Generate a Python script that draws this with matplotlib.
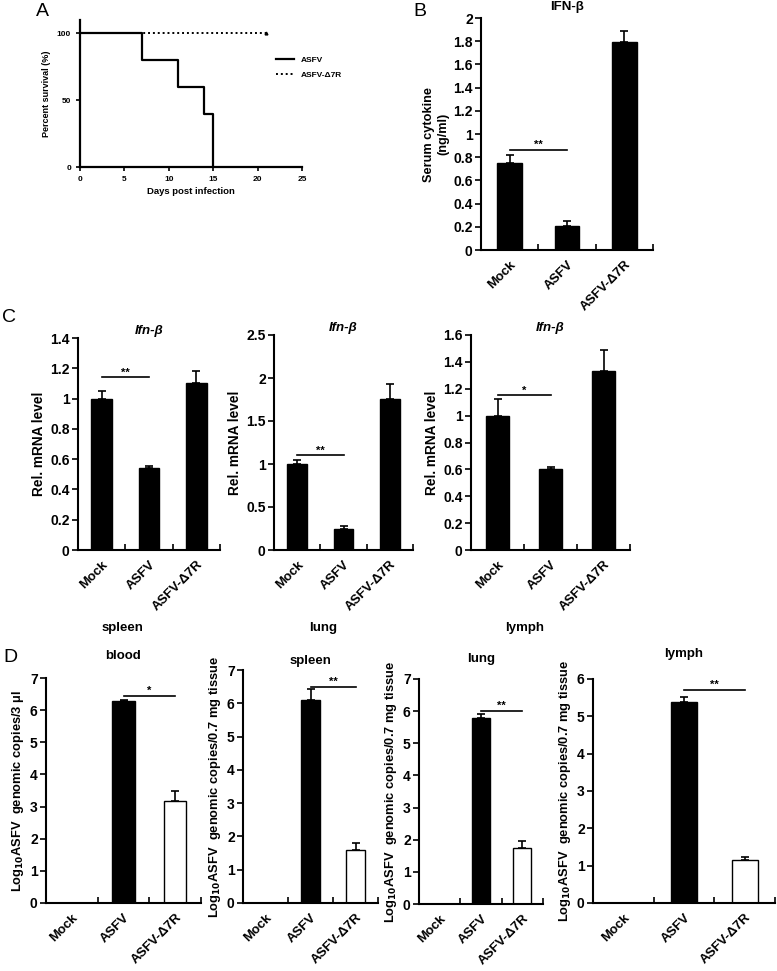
import matplotlib
matplotlib.use("Agg")
import matplotlib.pyplot as plt

plt.rcParams['font.family'] = ['Liberation Sans', 'DejaVu Sans']
plt.rcParams['font.weight'] = 'bold'
plt.rcParams['axes.labelweight'] = 'bold'
plt.rcParams['axes.titleweight'] = 'bold'
plt.rcParams['mathtext.default'] = 'bf'

W, H = 777, 971

# ---- data ----
# A: survival
days_asfv = [0, 7, 11, 14, 15]
surv_asfv = [100, 80, 60, 40, 0]
days_d7r = [0, 21]
surv_d7r = [100, 100]

groups = ["Mock", "ASFV", "ASFV-Δ7R"]

# B: serum IFN-b
b_vals = [0.75, 0.21, 1.79]
b_errs = [0.07, 0.04, 0.10]

# C: Ifn-b mRNA, three tissues
c1_vals = [1.0, 0.54, 1.10]
c1_errs = [0.05, 0.015, 0.08]
c2_vals = [1.0, 0.25, 1.76]
c2_errs = [0.05, 0.03, 0.17]
c3_vals = [1.0, 0.60, 1.33]
c3_errs = [0.12, 0.02, 0.16]

# D: viral load
d_titles = ["blood", "spleen", "lung", "lymph"]
d1_vals = [0, 6.28, 3.17]
d1_errs = [0, 0.03, 0.32]
d2_vals = [0, 6.10, 1.60]
d2_errs = [0, 0.33, 0.20]
d3_vals = [0, 5.80, 1.75]
d3_errs = [0, 0.10, 0.22]
d4_vals = [0, 5.38, 1.15]
d4_errs = [0, 0.15, 0.08]


def rect(l, r, t, b):
    return [l / W, 1 - b / H, (r - l) / W, (b - t) / H]


def bar_panel(box, vals, errs, fills, ylim, yticks, ylabel, title, sig, sig_y, star,
              xmax=3, tfs=10, lfs=9.5, xfs=9.5, title_style='normal', title_fs=9.5,
              title_pad=4):
    ax = fig.add_axes(box)
    x = [0.5, 1.5, 2.5]
    ax.bar(x, vals, width=0.43, color=fills, edgecolor='black', linewidth=1.0, zorder=2)
    for xi, v, e in zip(x, vals, errs):
        if e > 0:
            ax.errorbar(xi, v, yerr=[[0], [e]], fmt='none', ecolor='black',
                        elinewidth=1.2, capsize=3, capthick=1.2, zorder=3)
    ax.set_xlim(0, xmax)
    ax.set_ylim(*ylim)
    ax.set_yticks(yticks)
    ax.set_yticklabels([f"{t:g}" for t in yticks], fontsize=tfs, fontweight='bold')
    ax.set_xticks(x)
    ax.set_xticklabels(groups, rotation=45, ha='right', rotation_mode='anchor',
                       fontsize=xfs, fontweight='bold')
    ax.tick_params(axis='x', which='major', length=0, pad=6)
    ax.set_xticks([1, 2, 3], minor=True)
    ax.tick_params(axis='x', which='minor', length=4, direction='in', width=1.2)
    ax.tick_params(axis='y', length=4, width=1.2, direction='out', pad=2)
    for s in ['top', 'right']:
        ax.spines[s].set_visible(False)
    for s in ['left', 'bottom']:
        ax.spines[s].set_linewidth(1.5)
    ax.set_ylabel(ylabel, fontsize=lfs, fontweight='bold', labelpad=3)
    ax.set_title(title, fontsize=title_fs, fontweight='bold', style=title_style, pad=title_pad)
    i, j = sig
    ax.plot([x[i], x[j]], [sig_y, sig_y], color='black', lw=1.2)
    ax.text((x[i] + x[j]) / 2, sig_y, star, ha='center', va='bottom', fontsize=8,
            fontweight='bold')
    return ax


fig = plt.figure(figsize=(W / 100, H / 100), dpi=100)

# ---- A ----
axA = fig.add_axes(rect(80, 302, 20, 167))
axA.step(days_asfv + [15], surv_asfv + [0], where='post', color='black', lw=1.6,
         label="ASFV")
axA.plot(days_d7r, surv_d7r, color='black', lw=1.4, ls=(0, (1, 1.5)), label="ASFV-Δ7R")
axA.plot([21], [100], marker='^', color='black', ms=2)
axA.set_xlim(0, 25)
axA.set_ylim(0, 110)
axA.set_xticks([0, 5, 10, 15, 20, 25])
axA.set_yticks([0, 50, 100])
axA.tick_params(labelsize=6, length=3, width=1.2)
for s in ['top', 'right']:
    axA.spines[s].set_visible(False)
for s in ['left', 'bottom']:
    axA.spines[s].set_linewidth(1.6)
axA.set_xlabel("Days post infection", fontsize=6.8, labelpad=3)
axA.set_ylabel("Percent survival (%)", fontsize=6.5, labelpad=4)
axA.legend(loc='upper left', bbox_to_anchor=(268 / W, 1 - 49 / H),
           bbox_transform=fig.transFigure, frameon=False, fontsize=6,
           handlelength=2.2, labelspacing=0.8)

# ---- B ----
bar_panel(rect(481, 653, 18, 250), b_vals, b_errs, ['black'] * 3, (0, 2),
          [0, 0.2, 0.4, 0.6, 0.8, 1, 1.2, 1.4, 1.6, 1.8, 2],
          "Serum cytokine\n(ng/ml)", "IFN-β", (0, 1), 0.86, "**",
          lfs=9.2, title_pad=6)

# ---- C ----
bar_panel(rect(78, 220, 338, 550), c1_vals, c1_errs, ['black'] * 3, (0, 1.4),
          [0, 0.2, 0.4, 0.6, 0.8, 1, 1.2, 1.4], "Rel. mRNA level", "Ifn-β",
          (0, 1), 1.14, "**", lfs=9.8, title_style='italic', title_pad=3)
bar_panel(rect(274, 413, 335, 550), c2_vals, c2_errs, ['black'] * 3, (0, 2.5),
          [0, 0.5, 1, 1.5, 2, 2.5], "Rel. mRNA level", "Ifn-β",
          (0, 1), 1.10, "**", lfs=9.8, title_style='italic', title_pad=3)
bar_panel(rect(471, 630, 335, 550), c3_vals, c3_errs, ['black'] * 3, (0, 1.6),
          [0, 0.2, 0.4, 0.6, 0.8, 1, 1.2, 1.4, 1.6], "Rel. mRNA level", "Ifn-β",
          (0, 1), 1.15, "*", lfs=9.8, title_style='italic', title_pad=3)

# ---- D ----
fills = ['white', 'black', 'white']
lab_blood = "Log$_{10}$ASFV  genomic copies/3 μl"
lab_tissue = "Log$_{10}$ASFV  genomic copies/0.7 mg tissue"
bar_panel(rect(46, 201, 678, 903), d1_vals, d1_errs, fills, (0, 7), list(range(8)),
          lab_blood, d_titles[0], (1, 2), 6.44, "*", lfs=9.3, title_pad=14)
bar_panel(rect(243, 378, 670, 903), d2_vals, d2_errs, fills, (0, 7), list(range(8)),
          lab_tissue, d_titles[1], (1, 2), 6.49, "**", xmax=2.75, lfs=9.3, title_pad=4)
bar_panel(rect(419, 543, 679, 904), d3_vals, d3_errs, fills, (0, 7), list(range(8)),
          lab_tissue, d_titles[2], (1, 2), 6.0, "**", xmax=2.79, lfs=9.3, title_pad=12)
bar_panel(rect(593, 775, 679, 903), d4_vals, d4_errs, fills, (0, 6), list(range(7)),
          lab_tissue, d_titles[3], (1, 2), 5.71, "**", lfs=9.3, title_pad=16)

# stray row of tissue labels
for name, xp in zip(["spleen", "lung", "lymph"], [122, 323, 525]):
    fig.text(xp / W, 1 - 628 / H, name, ha='center', va='center', fontsize=9.5,
             fontweight='bold')

# panel letters
for letter, xp, yp in [("A", 42, 12), ("B", 420, 12), ("C", 9, 318), ("D", 10, 657)]:
    fig.text(xp / W, 1 - yp / H, letter, ha='center', va='center', fontsize=14,
             fontweight='normal')

plt.savefig("out.png", dpi=100)
